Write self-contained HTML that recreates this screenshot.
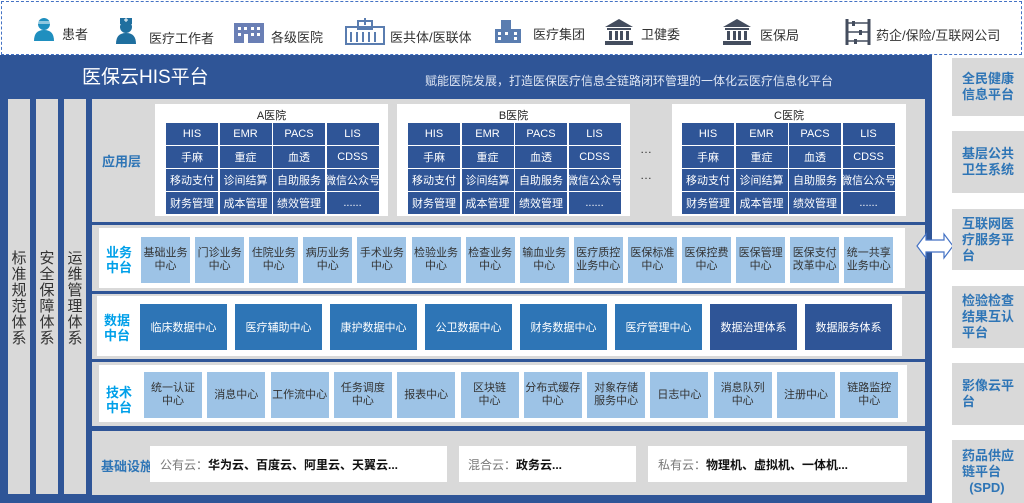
<!DOCTYPE html><html><head><meta charset="utf-8"><style>
*{margin:0;padding:0;box-sizing:border-box}
body{width:1024px;height:503px;position:relative;background:#fff;font-family:"Liberation Sans","Noto Sans CJK SC",sans-serif;overflow:hidden}
.a{position:absolute}
.c{display:flex;align-items:center;justify-content:center;text-align:center}
.top{left:1px;top:1px;width:1021px;height:54px;border:1px dashed #4472C4}
.ti{font-size:13px;color:#333;top:25px}
.main{left:0;top:55px;width:932px;height:448px;background:#2F5597}
.pill{top:99px;height:395px;background:#d9d9d9;color:#333;font-size:15px;line-height:16px;width:22px;padding-top:152px;text-align:center}
.gray{background:#d9d9d9}
.wp{background:#fff}
.hosp{background:#fff;top:104px;height:112px}
.ht{font-size:11px;color:#222;width:100%;text-align:center;top:3px}
.cell{background:#2F5597;color:#fff;font-size:11px;width:52px;height:22px;white-space:nowrap;overflow:hidden}
.lb{font-size:13px;font-weight:bold;color:#00A0E9;line-height:15px;text-align:center}
.bz{background:#9DC3E6;color:#333;font-size:11px;line-height:13px;white-space:nowrap}
.dz{color:#fff;font-size:11px;height:46px;top:304px}
.rb{left:952px;width:72px;background:#d9d9d9;color:#2E75B6;font-weight:bold;font-size:13px;line-height:16px;padding-left:10px;display:flex;align-items:center}
</style></head><body>
<div class="a top"></div>
<svg class="a" style="left:33px;top:17px" width="22" height="24"><circle cx="11" cy="7" r="6" fill="#1F8FBF"/><rect x="5" y="4" width="12" height="3" fill="#fff" opacity=".5"/><path d="M1 24 Q1 13 11 13 Q21 13 21 24Z" fill="#1F8FBF"/></svg>
<div class="a ti" style="left:62px;top:24px">患者</div>
<svg class="a" style="left:115px;top:18px" width="22" height="26"><rect x="5" y="0" width="12" height="6" fill="#1F6F9F"/><circle cx="11" cy="9" r="6" fill="#1F6F9F"/><path d="M1 26 Q1 15 11 15 Q21 15 21 26Z" fill="#1F6F9F"/><path d="M9 2h4M11 0v4" stroke="#fff"/></svg>
<div class="a ti" style="left:149px;top:28px">医疗工作者</div>
<svg class="a" style="left:234px;top:21px" width="30" height="22"><rect x="0" y="2" width="30" height="20" fill="#6A7FB5"/><g fill="#fff"><rect x="4" y="6" width="3" height="3"/><rect x="10" y="6" width="3" height="3"/><rect x="17" y="6" width="3" height="3"/><rect x="23" y="6" width="3" height="3"/><rect x="4" y="12" width="3" height="3"/><rect x="17" y="12" width="3" height="3"/><rect x="23" y="12" width="3" height="3"/><rect x="10" y="13" width="4" height="9"/></g></svg>
<div class="a ti" style="left:271px;top:27px">各级医院</div>
<svg class="a" style="left:345px;top:18px" width="40" height="27"><g fill="none" stroke="#5A7DB0" stroke-width="2"><rect x="1" y="9" width="38" height="17"/><rect x="13" y="3" width="14" height="8"/><path d="M6 14v10M12 14v10M18 14v10M24 14v10M30 14v10"/></g><path d="M20 0v7M17 3h6" stroke="#5A7DB0" stroke-width="2"/></svg>
<div class="a ti" style="left:390px;top:27px">医共体/医联体</div>
<svg class="a" style="left:495px;top:20px" width="26" height="23"><rect x="6" y="0" width="10" height="23" fill="#5A7DB0"/><rect x="0" y="9" width="26" height="14" fill="#5A7DB0"/><g fill="#fff"><rect x="3" y="12" width="3" height="3"/><rect x="10" y="12" width="3" height="3"/><rect x="19" y="12" width="3" height="3"/><rect x="19" y="17" width="3" height="3"/><rect x="3" y="17" width="3" height="3"/></g></svg>
<div class="a ti" style="left:533px;top:24px">医疗集团</div>
<svg class="a" style="left:604px;top:19px" width="30" height="26"><path d="M15 0L29 8H1Z" fill="#444D5E"/><rect x="3" y="9" width="24" height="2" fill="#444D5E"/><g fill="#444D5E"><rect x="5" y="12" width="3" height="9"/><rect x="11" y="12" width="3" height="9"/><rect x="16" y="12" width="3" height="9"/><rect x="22" y="12" width="3" height="9"/></g><rect x="1" y="22" width="28" height="4" fill="#444D5E"/></svg>
<div class="a ti" style="left:641px;top:24px">卫健委</div>
<svg class="a" style="left:722px;top:19px" width="30" height="26"><path d="M15 0L29 8H1Z" fill="#444D5E"/><rect x="3" y="9" width="24" height="2" fill="#444D5E"/><g fill="#444D5E"><rect x="5" y="12" width="3" height="9"/><rect x="11" y="12" width="3" height="9"/><rect x="16" y="12" width="3" height="9"/><rect x="22" y="12" width="3" height="9"/></g><rect x="1" y="22" width="28" height="4" fill="#444D5E"/></svg>
<div class="a ti" style="left:760px;top:25px">医保局</div>
<svg class="a" style="left:845px;top:19px" width="26" height="26"><g stroke="#444D5E" stroke-width="3"><path d="M2 0v26M24 0v26"/></g><g stroke="#444D5E" stroke-width="1.5"><path d="M2 4h22M2 13h22M2 22h22"/></g><g fill="#444D5E"><rect x="7" y="2" width="3" height="5"/><rect x="14" y="11" width="3" height="5"/><rect x="9" y="20" width="3" height="5"/></g></svg>
<div class="a ti" style="left:876px;top:25px">药企/保险/互联网公司</div>

<div class="a main"></div>
<div class="a" style="left:82px;top:62px;color:#fff;font-size:19px">医保云HIS平台</div>
<div class="a" style="left:425px;top:72px;color:#dfe6f3;font-size:12px">赋能医院发展，打造医保医疗信息全链路闭环管理的一体化云医疗信息化平台</div>

<div class="a pill" style="left:8px">标准规范体系</div>
<div class="a pill" style="left:36px">安全保障体系</div>
<div class="a pill" style="left:64px">运维管理体系</div>

<div class="a gray" style="left:92px;top:99px;width:833px;height:123px"></div>
<div class="a lb" style="left:102px;top:154px;color:#2E75B6;font-size:13px">应用层</div>
<div class="a hosp" style="left:155px;width:233px"><div class="a ht">A医院</div></div>
<div class="a hosp" style="left:397px;width:233px"><div class="a ht">B医院</div></div>
<div class="a hosp" style="left:672px;width:234px"><div class="a ht">C医院</div></div>
<div class="a" style="left:640px;top:142px;font-size:12px;color:#333">…</div>
<div class="a" style="left:640px;top:168px;font-size:12px;color:#333">…</div>

<div class="a gray" style="left:92px;top:225px;width:833px;height:66px"></div>
<div class="a wp" style="left:99px;top:228px;width:806px;height:60px"></div>
<div class="a lb" style="left:106px;top:245px">业务<br>中台</div>
<div class="a gray" style="left:92px;top:294px;width:833px;height:65px"></div>
<div class="a wp" style="left:97px;top:296px;width:805px;height:60px"></div>
<div class="a lb" style="left:104px;top:313px">数据<br>中台</div>
<div class="a gray" style="left:92px;top:362px;width:833px;height:64px"></div>
<div class="a wp" style="left:99px;top:365px;width:808px;height:57px"></div>
<div class="a lb" style="left:106px;top:385px">技术<br>中台</div>
<div class="a gray" style="left:92px;top:431px;width:833px;height:64px"></div>
<div class="a" style="left:101px;top:456px;font-size:13px;font-weight:bold;color:#2E75B6">基础设施</div>
<div class="a wp" style="left:150px;top:446px;width:297px;height:36px;font-size:12px;padding:10px 0 0 10px;color:#777">公有云：<b style="color:#111">华为云、百度云、阿里云、天翼云...</b></div>
<div class="a wp" style="left:459px;top:446px;width:177px;height:36px;font-size:12px;padding:10px 0 0 9px;color:#777">混合云：<b style="color:#111">政务云...</b></div>
<div class="a wp" style="left:648px;top:446px;width:259px;height:36px;font-size:12px;padding:10px 0 0 10px;color:#777">私有云：<b style="color:#111">物理机、虚拟机、一体机...</b></div>

<svg class="a" style="left:916px;top:232px" width="38" height="28"><path d="M1 14L10 2V8H28V2L37 14L28 26V20H10V26Z" fill="#fff" stroke="#4472C4" stroke-width="1.2"/></svg>

<div class="a rb" style="top:58px;height:58px">全民健康<br>信息平台</div>
<div class="a rb" style="top:131px;height:62px">基层公共<br>卫生系统</div>
<div class="a rb" style="top:209px;height:61px">互联网医<br>疗服务平<br>台</div>
<div class="a rb" style="top:286px;height:62px">检验检查<br>结果互认<br>平台</div>
<div class="a rb" style="top:363px;height:62px">影像云平<br>台</div>
<div class="a rb" style="top:440px;height:63px">药品供应<br>链平台<br>&nbsp;&nbsp;(SPD)</div>

<div id="grids"></div>
<script>
var g='',rows=[["HIS","EMR","PACS","LIS"],["手麻","重症","血透","CDSS"],["移动支付","诊间结算","自助服务","微信公众号"],["财务管理","成本管理","绩效管理","......"]];
[166,408,682].forEach(function(x0){rows.forEach(function(r,i){r.forEach(function(t,j){g+='<div class="a c cell" style="left:'+(x0+j*53.5)+'px;top:'+(123+i*23)+'px">'+t+'</div>';});});});
var b=["基础业务<br>中心","门诊业务<br>中心","住院业务<br>中心","病历业务<br>中心","手术业务<br>中心","检验业务<br>中心","检查业务<br>中心","输血业务<br>中心","医疗质控<br>业务中心","医保标准<br>中心","医保控费<br>中心","医保管理<br>中心","医保支付<br>改革中心","统一共享<br>业务中心"];
b.forEach(function(t,i){g+='<div class="a c bz" style="left:'+(141+i*54.1)+'px;top:237px;width:49px;height:46px">'+t+'</div>';});
var d=["临床数据中心","医疗辅助中心","康护数据中心","公卫数据中心","财务数据中心","医疗管理中心","数据治理体系","数据服务体系"];
d.forEach(function(t,i){g+='<div class="a c dz" style="left:'+(140+i*95)+'px;width:87px;background:'+(i<6?'#2E75B6':'#2F5597')+'">'+t+'</div>';});
var k=["统一认证<br>中心","消息中心","工作流中心","任务调度<br>中心","报表中心","区块链<br>中心","分布式缓存<br>中心","对象存储<br>服务中心","日志中心","消息队列<br>中心","注册中心","链路监控<br>中心"];
k.forEach(function(t,i){g+='<div class="a c bz" style="left:'+(144+i*63.3)+'px;top:372px;width:58px;height:46px">'+t+'</div>';});
document.getElementById('grids').innerHTML=g;
</script>
</body></html>
